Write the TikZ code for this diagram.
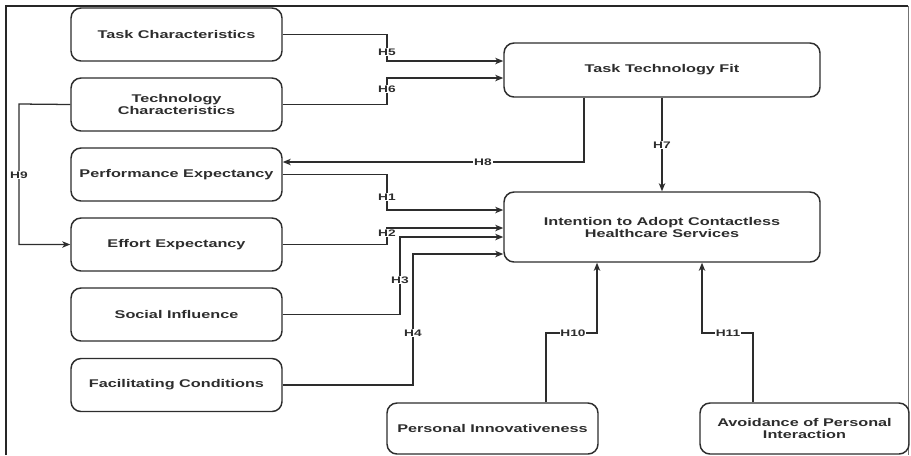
\documentclass[tikz,border=0pt]{standalone}
\usepackage{fontspec}
\setmainfont{Liberation Sans}[FakeStretch=1.45]
\usepackage{tikz}
\usetikzlibrary{arrows.meta}
\definecolor{ink}{RGB}{45,45,45}
\tikzset{
  box/.style={draw=ink, line width=1.1pt, rounded corners=7.5pt, align=center, text=ink,
    font=\fontsize{8.4}{9}\selectfont\bfseries, inner sep=0pt},
  smallbox/.style={box, minimum width=158.25pt, minimum height=39.75pt},
  widebox/.style={box, minimum width=237pt},
  link/.style={draw=ink, line width=0.95pt, -{Stealth[length=6pt,width=4.8pt,inset=1.6pt]}},
  hlab/.style={fill=white, text=ink, inner sep=0.6pt, font=\fontsize{7.1}{7.5}\selectfont\bfseries}
}

\begin{document}
\begin{tikzpicture}[x=0.75pt,y=0.75pt,yscale=-1,xscale=1]
                  \useasboundingbox (0,0) rectangle (911,455);

                  % Frame
                  \draw [line width=2pt, color=black!85] (6,455) -- (6,6) -- (908,6) ;
                  \draw [line width=0.6pt, color=black!55] (908,6) -- (908,455) ;

                  % Left column
                  \node [smallbox] (tc)  at (176.5,34.5)  {Task Characteristics};
                  \node [smallbox] (tec) at (176.5,104.5) {Technology\\Characteristics};
                  \node [smallbox] (pe)  at (176.5,174.5) {Performance Expectancy};
                  \node [smallbox] (ee)  at (176.5,244.5) {Effort Expectancy};
                  \node [smallbox] (si)  at (176.5,314.5) {Social Influence};
                  \node [smallbox] (fc)  at (176.5,385)   {Facilitating Conditions};

                  % Right column
                  \node [widebox, minimum height=40.5pt] (ttf) at (662,70)  {Task Technology Fit};
                  \node [widebox, minimum height=52.5pt] (int) at (662,227) {Intention to Adopt Contactless\\Healthcare Services};

                  % Bottom row
                  \node [smallbox, minimum height=38.25pt] (pi) at (492.5,428.5) {Personal Innovativeness};
                  \node [smallbox, minimum width=156.75pt, minimum height=38.25pt] (api) at (804.5,428.5) {Avoidance of Personal\\Interaction};

                  % Bends
                  \coordinate (h5a) at (387,61);
                  \coordinate (h6a) at (387,78);
                  \coordinate (h8a) at (584,162);
                  \coordinate (h1a) at (387,210);
                  \coordinate (h2a) at (387,228);
                  \coordinate (h3a) at (400,237);
                  \coordinate (h4a) at (413,254);
                  \coordinate (h9a) at (19,104);
                  \coordinate (h10a) at (546,333);
                  \coordinate (h10b) at (597,333);
                  \coordinate (h11a) at (753,333);
                  \coordinate (h11b) at (702,333);

                  % Arrows
                  \draw [link] (tc.east) -| (h5a) -- (ttf.west |- h5a) ;
                  \draw [link] (tec.east) -| (h6a) -- (ttf.west |- h6a) ;
                  \draw [link] (ttf.south -| h8a) -- (h8a) -- (pe.east |- h8a) ;
                  \draw [link] (ttf.south) -- (int.north) ;
                  \draw [link] (pe.east) -| (h1a) -- (int.west |- h1a) ;
                  \draw [link] (ee.east) -| (h2a) -- (int.west |- h2a) ;
                  \draw [link] (si.east) -| (h3a) -- (int.west |- h3a) ;
                  \draw [link] (fc.east) -| (h4a) -- (int.west |- h4a) ;
                  \draw [link] (tec.west) -- (h9a) |- (ee.west) ;
                  \draw [link] (pi.north -| h10a) -- (h10a) -- (h10b) -- (int.south -| h10b) ;
                  \draw [link] (api.north -| h11a) -- (h11a) -- (h11b) -- (int.south -| h11b) ;

                  % Labels
                  \node [hlab] (l5)  at (387,52)  {H5};
                  \node [hlab] (l6)  at (387,89)  {H6};
                  \node [hlab] (l8)  at (483,162) {H8};
                  \node [hlab] (l7)  at (662,145) {H7};
                  \node [hlab] (l1)  at (387,197) {H1};
                  \node [hlab] (l2)  at (387,233) {H2};
                  \node [hlab] (l3)  at (400,280) {H3};
                  \node [hlab] (l4)  at (413,333) {H4};
                  \node [hlab] (l9)  at (19,175)  {H9};
                  \node [hlab] (l10) at (573,333) {H10};
                  \node [hlab] (l11) at (728,333) {H11};

              \end{tikzpicture}
\end{document}
